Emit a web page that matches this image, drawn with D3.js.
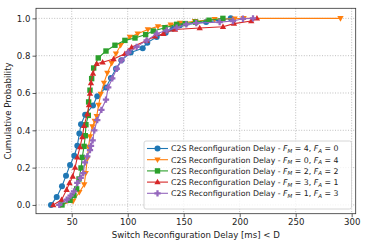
<!DOCTYPE html>
<html><head><meta charset="utf-8">
<script src="https://cdn.jsdelivr.net/npm/d3@7"></script>
<style>html,body{margin:0;padding:0;background:#fff;}svg{display:block;font-family:"DejaVu Sans",sans-serif;}</style>
</head><body><svg id="c" width="366" height="246"></svg>
<script>
// ---- data ----
const seriesNames = ["FM4FA0","FM0FA4","FM2FA2","FM3FA1","FM1FA3"];
const legendFM = [4,0,2,3,1];
const legendFA = [0,4,2,1,3];
const xTicks = [50,100,150,200,250,300];
const yTicks = [0.0,0.2,0.4,0.6,0.8,1.0];

const delayBlue = [31.5,36.6,41.3,44.9,48.5,52.3,55,56.8,58.3,62,69,72.8,80.6,85,89.5,94.3,102.7,113.4,117.5,125.9,133.9,140,146.7,170,192];
const cdfBlue   = [0,0.043,0.10,0.157,0.214,0.264,0.317,0.383,0.433,0.483,0.533,0.583,0.63,0.68,0.73,0.775,0.817,0.84,0.87,0.90,0.923,0.945,0.963,0.98,1.0];

const delayOrange = [40,51.2,56.8,61.2,62.5,63.9,65,66.3,68.5,70.5,72.3,74,75.9,78.8,81.8,85.7,89.5,93.7,101.9,108.9,118,127,138.4,146.7,160,177.6,195.5,203.5,290];
const cdfOrange   = [0,0.02,0.068,0.109,0.17,0.247,0.31,0.367,0.42,0.45,0.476,0.535,0.594,0.654,0.707,0.76,0.81,0.856,0.90,0.918,0.94,0.957,0.966,0.975,0.985,0.995,0.998,1.0,1.0];

const delayGreen = [41.3,48.5,52,54.4,56.5,58.3,59.4,61,62.1,62.7,64.8,65.1,66.3,67.8,69.6,73.7,80.6,88.6,97.5,106.5,116,122.8,133.3,143.7,151.3,160.7,172.6,185];
const cdfGreen   = [0,0.025,0.05,0.086,0.139,0.198,0.255,0.314,0.371,0.43,0.48,0.552,0.615,0.677,0.734,0.788,0.825,0.856,0.882,0.895,0.913,0.932,0.95,0.968,0.972,0.98,0.99,1.0];

const delayRed = [33.5,41,45.5,48,50.9,53,55,57.4,59.4,61,63.9,65.4,66.3,67.2,69,72.3,77.6,87.4,97.5,100.5,103.5,116.9,124.3,131.8,142.2,164.3,185.1,194.9,210.3,215.4];
const cdfRed   = [0,0.028,0.082,0.118,0.153,0.2,0.255,0.31,0.364,0.424,0.487,0.535,0.597,0.654,0.705,0.757,0.765,0.782,0.81,0.825,0.845,0.882,0.904,0.918,0.94,0.948,0.955,0.972,0.986,1.0];

const delayPurple = [38.9,45.5,49,52,55,58,60.3,61.8,63.9,66.3,67.2,68.7,70.2,72.8,76.5,80.6,82.6,86.2,90.2,94.6,100.5,108,116.9,125.9,134.8,143.7,152.3,161.2,182.1,194,202.9,211.9];
const cdfPurple   = [0,0.028,0.05,0.073,0.118,0.145,0.171,0.228,0.26,0.294,0.317,0.346,0.4,0.455,0.51,0.565,0.63,0.678,0.73,0.775,0.817,0.847,0.882,0.918,0.936,0.95,0.968,0.975,0.98,0.986,0.998,1.0];

const allDelays = [delayBlue,delayOrange,delayGreen,delayRed,delayPurple];
const allCdfs = [cdfBlue,cdfOrange,cdfGreen,cdfRed,cdfPurple];

// ---- styles ----
const colors = ["#1f77b4","#ff7f0e","#2ca02c","#d62728","#9467bd"];
const shapes = ["circle","tridown","square","triup","plus"];

const svg = d3.select("#c");
const L=36, R=355.7, T=8.3, B=213.7;
const x = d3.scaleLinear().domain([18.1,303.6]).range([L,R]);
const y = d3.scaleLinear().domain([-0.047,1.054]).range([B,T]);

// grid
const g = svg.append("g");
g.selectAll(".gx").data(xTicks).enter().append("line")
  .attr("x1",d=>x(d)).attr("x2",d=>x(d)).attr("y1",T).attr("y2",B)
  .attr("stroke","#b0b0b0").attr("stroke-width",0.8).attr("stroke-dasharray","1,1.6");
g.selectAll(".gy").data(yTicks).enter().append("line")
  .attr("y1",d=>y(d)).attr("y2",d=>y(d)).attr("x1",L).attr("x2",R)
  .attr("stroke","#b0b0b0").attr("stroke-width",0.8).attr("stroke-dasharray","1,1.6");

// axes
const xAxis = d3.axisBottom(x).tickValues(xTicks).tickSize(3.5).tickPadding(2).tickFormat(d3.format("d"));
const yAxis = d3.axisLeft(y).tickValues(yTicks).tickSize(3.5).tickPadding(2).tickFormat(d3.format(".1f"));
const ax = svg.append("g").attr("transform",`translate(0,${B})`).call(xAxis);
const ay = svg.append("g").attr("transform",`translate(${L},0)`).call(yAxis);
[ax,ay].forEach(a=>{
  a.select(".domain").remove();
  a.selectAll("text").attr("font-size",8.6).attr("fill","#222").attr("font-family","DejaVu Sans");
  a.selectAll("line").attr("stroke","#333").attr("stroke-width",0.8);
});

function marker(sel, shape, color, s){
  const r = s/2;
  if(shape==="circle") sel.append("circle").attr("r",r*1.0).attr("fill",color);
  else if(shape==="square") sel.append("rect").attr("x",-r*0.9).attr("y",-r*0.9).attr("width",r*1.8).attr("height",r*1.8).attr("fill",color);
  else if(shape==="triup") sel.append("path").attr("d",`M0,${-r*1.1}L${r*1.05},${r*0.75}L${-r*1.05},${r*0.75}Z`).attr("fill",color);
  else if(shape==="tridown") sel.append("path").attr("d",`M0,${r*1.1}L${r*1.05},${-r*0.75}L${-r*1.05},${-r*0.75}Z`).attr("fill",color);
  else if(shape==="plus"){ const a=r*1.05,b=r*0.38;
    sel.append("path").attr("d",`M${-b},${-a}H${b}V${-b}H${a}V${b}H${b}V${a}H${-b}V${b}H${-a}V${-b}H${-b}Z`).attr("fill",color);}
}

const line = d3.line().x(d=>x(d[0])).y(d=>y(d[1]));
const plot = svg.append("g");
allDelays.forEach((dx,i)=>{
  const pts = dx.map((v,j)=>[v,allCdfs[i][j]]);
  const sg = plot.append("g");
  sg.append("path").attr("d",line(pts)).attr("fill","none").attr("stroke",colors[i]).attr("stroke-width",1.1);
  pts.forEach(p=>{
    const m = sg.append("g").attr("transform",`translate(${x(p[0])},${y(p[1])})`);
    marker(m, shapes[i], colors[i], 6);
  });
});

// spines
svg.append("rect").attr("x",L).attr("y",T).attr("width",R-L).attr("height",B-T)
  .attr("fill","none").attr("stroke","#333").attr("stroke-width",0.8);

// axis labels
svg.append("text").attr("x",(L+R)/2).attr("y",238).attr("text-anchor","middle")
  .attr("font-size",8.6).attr("fill","#222").text("Switch Reconfiguration Delay [ms] < D");
svg.append("text").attr("transform",`translate(11,${(T+B)/2}) rotate(-90)`).attr("text-anchor","middle")
  .attr("font-size",8.6).attr("fill","#222").text("Cumulative Probability");

// legend
const lg = svg.append("g");
const LX=144, LY=141, LW=207.5, LH=68;
lg.append("rect").attr("x",LX).attr("y",LY).attr("width",LW).attr("height",LH).attr("rx",2)
  .attr("fill","#fff").attr("fill-opacity",0.8).attr("stroke","#ccc").attr("stroke-width",0.8);
seriesNames.forEach((n,i)=>{
  const yy = LY+7.5+i*11.2;
  lg.append("line").attr("x1",LX+3).attr("x2",LX+24).attr("y1",yy).attr("y2",yy).attr("stroke",colors[i]).attr("stroke-width",1.1);
  const m = lg.append("g").attr("transform",`translate(${LX+13.5},${yy})`);
  marker(m, shapes[i], colors[i], 6);
  const t = lg.append("text").attr("x",LX+27).attr("y",yy+2.9).attr("font-size",7.8).attr("fill","#222");
  t.append("tspan").text("C2S Reconfiguration Delay - ");
  t.append("tspan").attr("font-style","italic").text("F");
  t.append("tspan").attr("font-size",5.5).attr("font-style","italic").attr("dy",1.6).text("M");
  t.append("tspan").attr("dy",-1.6).text(" = "+legendFM[i]+", ");
  t.append("tspan").attr("font-style","italic").text("F");
  t.append("tspan").attr("font-size",5.5).attr("font-style","italic").attr("dy",1.6).text("A");
  t.append("tspan").attr("dy",-1.6).text(" = "+legendFA[i]);
});
</script></body></html>
